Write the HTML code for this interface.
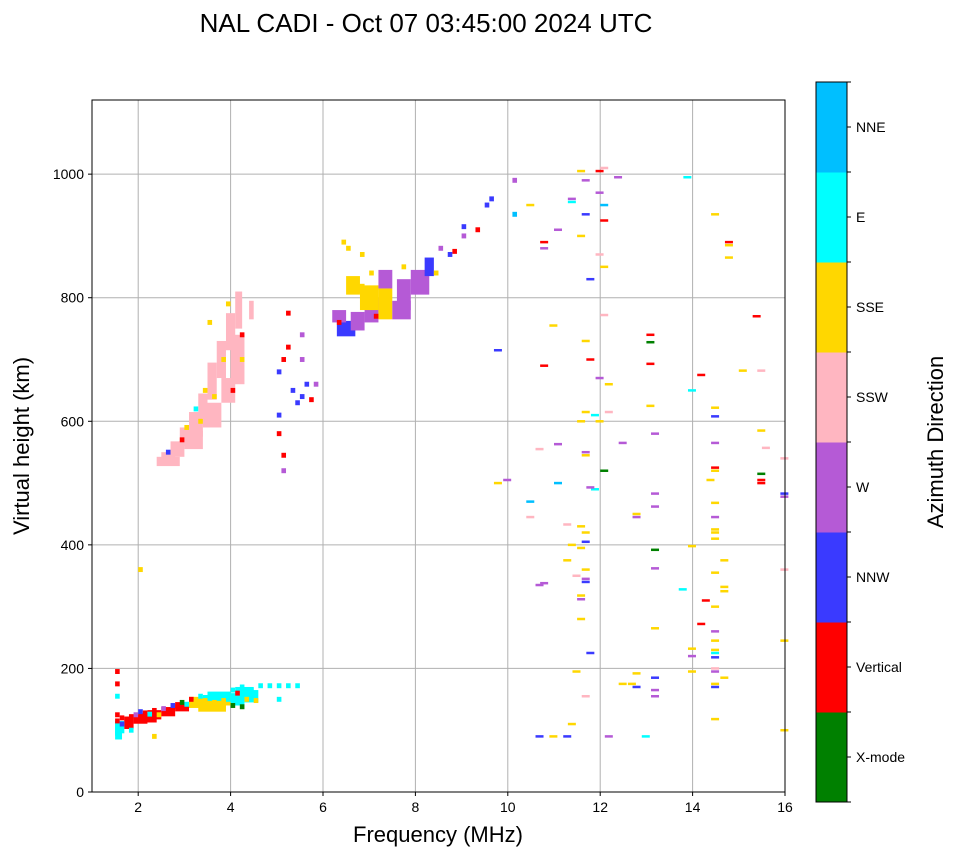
<!DOCTYPE html>
<html><head><meta charset="utf-8">
<style>
body{margin:0;background:#fff;font-family:"Liberation Sans",sans-serif;}
svg text{font-family:"Liberation Sans",sans-serif;fill:#000;}
</style></head>
<body>
<svg id="chart" width="958" height="857" xmlns="http://www.w3.org/2000/svg">
<rect width="958" height="857" fill="#fff"/>
<text x="426" y="32" font-size="26" text-anchor="middle">NAL CADI - Oct 07 03:45:00 2024 UTC</text>
<g id="grid"></g>
<g id="marks"></g>
<rect x="92" y="100" width="693" height="692" fill="none" stroke="#000" stroke-width="1"/>
<g id="axes"></g>
<text x="438" y="842" font-size="22" text-anchor="middle">Frequency (MHz)</text>
<text transform="translate(29,446) rotate(-90)" font-size="22" text-anchor="middle">Virtual height (km)</text>
<g id="cbar"></g>
<text transform="translate(943,442) rotate(-90)" font-size="22" text-anchor="middle">Azimuth Direction</text>
</svg>
<script>
const xTicks=[2,4,6,8,10,12,14,16];
const yTicks=[0,200,400,600,800,1000];
const dirNames=["X-mode","Vertical","NNW","W","SSW","SSE","E","NNE"];
const dirColors=["#008000","#ff0000","#3a3aff","#b55ad6","#ffb6c1","#ffd700","#00ffff","#00bfff"];
// blobs: freq, height, span (MHz), depth (km), direction
const blobF=[1.5,1.7,1.9,2.2,2.5,2.8,3.1,3.4,3.7,4.0,4.3, 3.3,3.5,4.1,2.0,1.5,
2.5,2.7,2.9,3.1,3.3,3.5,3.7,3.9,4.1,4.4, 2.4,3.0,3.4,3.8,4.0,
6.3,6.6,6.9,7.2,7.6,7.9,8.2,6.7, 6.2,6.8,7.2,7.5,6.5];
const blobH=[105,112,118,125,130,138,145,148,150,150,155, 140,155,160,120,100,
540,555,575,595,625,665,700,745,780,780, 535,570,610,650,700,
750,762,780,790,805,825,850,815, 770,800,830,780,820];
const blobS=[0.2,0.2,0.3,0.3,0.3,0.3,0.3,0.3,0.3,0.3,0.3, 0.6,0.5,0.4,0.4,0.15,
0.3,0.3,0.3,0.3,0.2,0.2,0.2,0.2,0.15,0.1, 0.5,0.4,0.4,0.3,0.3,
0.4,0.3,0.3,0.3,0.3,0.4,0.2,0.2, 0.3,0.4,0.3,0.4,0.3];
const blobD=[20,20,15,15,15,15,18,18,20,20,20, 20,15,20,15,30,
20,25,30,40,40,60,60,60,60,30, 15,30,40,40,80,
25,30,40,50,50,40,30,15, 20,40,30,30,30];
const blobC=[6,1,1,1,1,1,5,6,5,6,6, 5,6,6,1,6,
4,4,4,4,4,4,4,4,4,4, 4,4,4,4,4,
2,3,3,5,3,3,2,5, 3,5,3,3,5];
// single cells: freq, height, direction
const cellF=[1.5,1.5,1.5,1.6,1.6,1.7,1.8,1.8,1.9,2.0,2.0,2.1,2.2,2.3,2.4,2.5,2.6,2.7,2.8,2.9,3.0,3.1,3.2,3.3,3.4,3.5,3.6,3.7,3.8,3.9,4.0,4.0,4.1,4.2,4.2,4.3,4.4,4.5,4.6,4.8,5.0,5.2,5.4,5.0,1.5,1.5,1.5,2.0,2.3,
3.0,3.2,3.4,3.6,3.8,4.0,4.2,4.2,3.5,3.9,2.6,2.9,3.3,
5.0,5.0,5.1,5.1,5.2,5.2,5.3,5.4,5.5,5.5,5.6,5.5,5.0,5.1,5.7,5.8,
7.0,7.0,6.5,6.4,6.8,7.3,7.1,6.3,7.7,8.5,8.8,9.0,9.0,8.7,9.3,9.5,9.6,10.1,10.1,8.4];
const cellH=[115,95,125,120,110,118,122,100,125,120,130,128,126,132,125,135,130,140,138,145,142,150,145,155,148,152,145,155,148,150,165,140,160,138,170,150,165,148,172,172,172,172,172,150,195,175,155,360,90,
590,620,650,640,700,650,740,700,760,790,550,570,600,
610,580,545,520,720,775,650,630,640,700,660,740,680,700,635,660,
810,840,880,890,870,800,770,760,850,880,875,900,915,870,910,950,960,935,990,840];
const cellC=[1,6,1,1,2,1,1,6,3,1,2,1,6,1,5,3,1,2,1,0,6,1,5,6,5,6,5,6,5,6,6,0,1,0,6,5,6,5,6,6,6,6,6,6,1,1,6,5,5,
5,6,5,5,5,1,1,5,5,5,2,1,5,
2,1,1,3,1,1,2,2,2,3,2,3,2,1,1,3,
5,5,5,5,5,5,1,1,5,3,1,3,2,2,1,2,2,7,3,5];
// sparse lines: freq, height, direction
const lineF=[10.7,10.7,11.0,11.3,11.5,11.9,12.0,12.3,11.6,11.9,12.0,12.0,11.5,11.9,12.0,11.7,10.9,10.7,11.6,11.7,11.9,12.1,13.0,13.0,13.0,12.0,13.8,14.4,14.7,14.7,14.7,15.3,15.0,15.4,14.1,13.9,14.4,14.4,13.0,11.6,11.8,12.1,11.9,11.5,13.1,12.4,11.0,11.6,11.6,10.6,12.0,14.4,15.4,15.5,15.9,15.4,15.4,15.4,15.9,15.9,14.4,14.4,14.3,14.4,14.4,14.4,14.4,14.4,14.6,14.4,14.6,14.6,15.9,13.1,13.1,12.7,12.7,11.0,10.4,10.4,11.2,11.5,11.6,11.6,11.5,11.3,11.2,11.6,11.4,11.6,11.6,10.6,10.7,11.5,11.5,11.5,11.7,11.8,11.7,9.9,9.7,13.1,13.1,13.7,13.9,14.2,14.4,14.1,14.4,14.4,14.4,14.4,14.4,14.4,14.4,14.4,14.4,14.6,14.4,13.9,13.9,13.9,15.9,15.9,13.1,13.1,13.1,13.1,12.7,12.4,12.7,12.1,12.9,10.6,10.9,11.2,11.3,11.4,11.6,12.6,9.7,10.4,11.3,11.6];
const lineH=[890,880,910,960,1005,1005,1010,995,990,970,950,925,900,870,850,830,755,690,730,700,670,660,740,728,693,772,995,935,890,885,865,770,682,682,675,650,622,608,625,615,610,615,600,600,580,565,563,550,545,555,520,565,585,557,540,515,500,505,483,478,520,525,505,468,445,425,420,410,375,355,332,325,360,483,462,450,445,500,470,445,433,430,420,405,395,400,375,360,350,345,340,335,338,318,312,280,225,490,493,505,500,392,362,328,398,310,300,272,260,245,230,225,218,200,195,175,170,185,118,232,220,195,245,100,265,185,165,155,192,175,170,90,90,90,90,90,110,195,155,175,715,950,955,935];
const lineC=[1,3,3,3,5,1,4,3,3,3,7,1,5,4,5,2,5,1,5,1,3,5,1,0,1,4,6,5,1,5,5,1,5,4,1,6,5,2,5,5,6,4,5,5,3,3,3,3,5,4,0,3,5,4,4,0,1,1,2,3,5,1,5,5,3,5,5,5,5,5,5,5,4,3,3,5,3,7,7,4,4,5,5,2,5,5,5,5,4,3,2,3,3,5,3,5,2,6,3,3,5,0,3,6,5,1,5,1,3,5,5,6,2,4,3,5,2,5,5,5,3,5,5,5,5,2,3,3,5,5,2,3,6,2,5,2,5,5,4,5,2,5,6,2];

const X0=92,X1=785,Y0=792,Y1=100,FMIN=1,FMAX=16,HMIN=0,HMAX=1120;
const xs=f=>X0+(f-FMIN)/(FMAX-FMIN)*(X1-X0);
const ys=h=>Y0-(h-HMIN)/(HMAX-HMIN)*(Y0-Y1);
const NS="http://www.w3.org/2000/svg";
function mk(tag,attrs,parent){const e=document.createElementNS(NS,tag);for(const k in attrs)e.setAttribute(k,attrs[k]);parent.appendChild(e);return e;}
const grid=document.getElementById('grid'),axes=document.getElementById('axes'),marks=document.getElementById('marks'),cbar=document.getElementById('cbar');
xTicks.forEach(t=>{const x=xs(t);
 const g=mk('line',{x1:x,x2:x,y1:Y1,y2:Y0,stroke:'#b0b0b0','stroke-width':1},grid);
 
 
 mk('line',{x1:x,x2:x,y1:Y0,y2:Y0+4,stroke:'#000'},axes);
 const l=mk('text',{x:x,y:Y0+20,'font-size':14,'text-anchor':'middle'},axes);l.textContent=t;
 
 
});
yTicks.forEach(t=>{const y=ys(t);
 const g=mk('line',{x1:X0,x2:X1,y1:y,y2:y,stroke:'#b0b0b0','stroke-width':1},grid);
 
 
 mk('line',{x1:X0-4,x2:X0,y1:y,y2:y,stroke:'#000'},axes);
 const l=mk('text',{x:X0-8,y:y+5,'font-size':14,'text-anchor':'end'},axes);l.textContent=t;
 
 
});
const kH=(Y0-Y1)/(HMAX-HMIN);
blobF.forEach((f,i)=>{
 const r=mk('rect',{x:xs(f),y:ys(blobH[i]+blobD[i]/2),width:blobS[i]*(X1-X0)/(FMAX-FMIN),height:blobD[i]*kH,fill:dirColors[blobC[i]]},marks);
 
 
});
cellF.forEach((f,i)=>{
 const r=mk('rect',{x:xs(f),y:ys(cellH[i]+4),width:4.6,height:8*kH,fill:dirColors[cellC[i]]},marks);
 
 
});
lineF.forEach((f,i)=>{
 const r=mk('rect',{x:xs(f),y:ys(lineH[i]+2),width:8,height:2.5,fill:dirColors[lineC[i]]},marks);
 
 
});
// colorbar
const CX=816,CW=31,CT=82,CB=802,seg=(CB-CT)/dirNames.length;
dirNames.forEach((n,i)=>{
 const y=CB-(i+1)*seg;
 const r=mk('rect',{x:CX,y:y,width:CW,height:seg+0.5,fill:dirColors[i]},cbar);
 
 
 const yc=y+seg/2;
 mk('line',{x1:CX+CW,x2:CX+CW+4,y1:yc,y2:yc,stroke:'#000'},cbar);
 const t=mk('text',{x:CX+CW+9,y:yc+5,'font-size':14},cbar);t.textContent=n;
 
 
});
for(let i=0;i<=dirNames.length;i++){const y=CT+i*seg;mk('line',{x1:CX+CW,x2:CX+CW+4,y1:y,y2:y,stroke:'#000'},cbar);}
mk('rect',{x:CX,y:CT,width:CW,height:CB-CT,fill:'none',stroke:'#000'},cbar);
</script>
</body></html>
